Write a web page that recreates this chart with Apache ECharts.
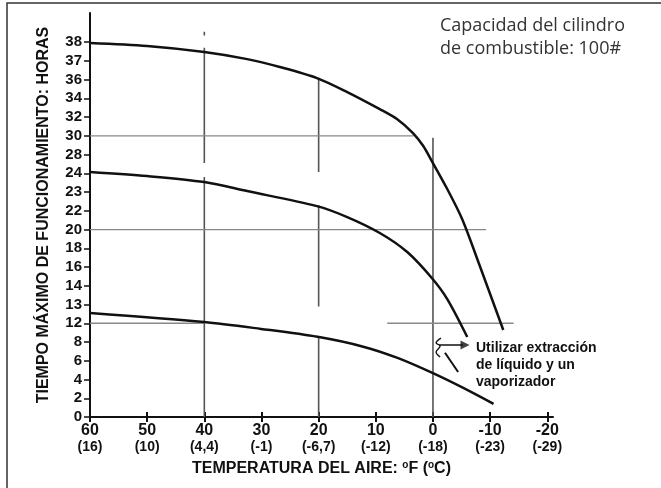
<!DOCTYPE html>
<html>
<head>
<meta charset="utf-8">
<script src="https://cdn.jsdelivr.net/npm/echarts@6/dist/echarts.min.js"></script>
<style>
  html, body { margin: 0; padding: 0; background: #fff; }
  #grafico { width: 661px; height: 488px; }
</style>
</head>
<body>
<div id="grafico"></div>
<script>
// Temperatura (ºF) y su equivalente en ºC
var tempF = [60, 50, 40, 30, 20, 10, 0, -10, -20];
var tempC = ['16', '10', '4,4', '-1', '-6,7', '-12', '-18', '-23', '-29'];

// Etiquetas del eje de horas (espaciado uniforme, valores no lineales)
var horasTicks = [0, 2, 4, 6, 8, 12, 13, 14, 16, 18, 20, 22, 23, 24, 28, 30, 32, 34, 36, 37, 38];

// Curvas (ºF, horas)
var curvaAltaF = [60, 50, 40, 32.5, 26.8, 20.3, 15, 9.3, 6.3, 3.5, 1.7, 0.2, -2.5, -5.1, -8.2, -12.3];
var curvaAltaH = [37.95, 37.79, 37.47, 37.09, 36.67, 36.08, 34.67, 32.85, 31.79, 30.29, 28.91, 26.61, 23.16, 21.12, 16.11, 10.56];

var curvaMediaF = [60, 50, 40, 32.5, 20.3, 15, 9.3, 4.5, 0.2, -2.5, -6.0];
var curvaMediaH = [24.27, 23.85, 23.53, 23.05, 22.25, 21.33, 19.63, 17.6, 14.83, 13.29, 9.07];

var curvaBajaF = [60, 40, 30.1, 20.2, 12.2, 6.2, 0.1, -5.3, -10.6];
var curvaBajaH = [12.55, 12.07, 10.8, 9.1, 7.5, 6.3, 4.7, 3.1, 1.4];

// Líneas guía verticales: [ºF, horas desde, horas hasta]
var guiasV = [
    [40, 38.35, 38.55],
    [40, 37.7, 26.2],
    [40, 23.8, 0],
    [20, 36.1, 24.3],
    [20, 22.3, 12.9],
    [20, 9.1, 0],
    [0, 29.8, 0]
];
// Líneas guía horizontales: [horas, ºF desde, ºF hasta]
var guiasH = [
    [30, 60, 3.4],
    [20, 60, -9.3],
    [12, 60, 40],
    [12, 8.0, -14.1]
];

// Flecha y trazos de la nota (ºF, horas)
var flechaF = [-1.1, -5.2];
var flechaH = [7.68, 7.68];
var puntaF = [-5.6];
var puntaH = [7.68];
var trazoF = [-2.1, -4.4];
var trazoH = [6.85, 4.8];
var rizoF = [-1.4, -0.55, -1.25, -0.55, -1.25];
var rizoH = [8.84, 7.9, 7.57, 6.93, 6.4];

// horas -> posición en el eje (interpolando entre etiquetas)
function toPos(h) {
    var n = horasTicks.length;
    if (h >= horasTicks[n - 1]) return (n - 1) + (h - horasTicks[n - 1]);
    for (var i = 0; i < n - 1; i++) {
        if (h >= horasTicks[i] && h <= horasTicks[i + 1]) {
            return i + (h - horasTicks[i]) / (horasTicks[i + 1] - horasTicks[i]);
        }
    }
    return 0;
}
function puntos(fs, hs) {
    return fs.map(function (f, i) { return [f, toPos(hs[i])]; });
}

var chartDom = document.getElementById('grafico');
var myChart = echarts.init(chartDom);

var posTicks = horasTicks.map(function (_, i) { return i; });
var negro = '#111';

var series = [];
[[curvaAltaF, curvaAltaH], [curvaMediaF, curvaMediaH], [curvaBajaF, curvaBajaH]].forEach(function (c) {
    series.push({
        type: 'line',
        data: puntos(c[0], c[1]),
        smooth: 0.3,
        symbol: 'none',
        silent: true,
        z: 5,
        lineStyle: { color: negro, width: 2.5 }
    });
});
guiasV.forEach(function (g) {
    series.push({
        type: 'line',
        data: [[g[0], toPos(g[1])], [g[0], toPos(g[2])]],
        symbol: 'none',
        silent: true,
        lineStyle: { color: '#555', width: 1.6 }
    });
});
guiasH.forEach(function (g) {
    series.push({
        type: 'line',
        data: [[g[1], toPos(g[0])], [g[2], toPos(g[0])]],
        symbol: 'none',
        silent: true,
        lineStyle: { color: '#888', width: 1.3 }
    });
});
series.push({
    type: 'line',
    data: puntos(flechaF, flechaH),
    symbol: 'none',
    silent: true,
    lineStyle: { color: negro, width: 1.6 }
});
series.push({
    type: 'scatter',
    data: puntos(puntaF, puntaH),
    symbol: 'triangle',
    symbolRotate: -90,
    symbolSize: [9, 9],
    silent: true,
    itemStyle: { color: negro }
});
series.push({
    type: 'line',
    data: puntos(trazoF, trazoH),
    symbol: 'none',
    silent: true,
    lineStyle: { color: negro, width: 2 }
});
series.push({
    type: 'line',
    data: puntos(rizoF, rizoH),
    smooth: 0.4,
    symbol: 'none',
    silent: true,
    lineStyle: { color: negro, width: 1.4 }
});

var option = {
    animation: false,
    backgroundColor: '#fff',
    grid: { left: 90, right: 108, top: 13, bottom: 71 },
    xAxis: [{
        type: 'value',
        min: -21,
        max: 60,
        inverse: true,
        name: '{t|TEMPERATURA DEL AIRE: }{s|o}{t|F (}{s|o}{t|C)}',
        nameLocation: 'middle',
        nameGap: 43,
        nameTextStyle: {
            rich: {
                t: { fontFamily: 'Liberation Sans', fontWeight: 'bold', fontSize: 16, color: negro },
                s: { fontFamily: 'Liberation Sans', fontWeight: 'bold', fontSize: 10, color: negro, padding: [0, 0, 7, 0] }
            }
        },
        axisLine: { onZero: false, lineStyle: { color: negro, width: 2 } },
        axisTick: { customValues: tempF, length: 5, lineStyle: { color: negro, width: 2 } },
        splitLine: { show: false },
        axisLabel: {
            customValues: tempF,
            margin: 5,
            formatter: function (v) {
                var i = tempF.indexOf(v);
                return '{a|' + v + '}\n{b|(' + tempC[i] + ')}';
            },
            rich: {
                a: { fontFamily: 'Liberation Sans', fontWeight: 'bold', fontSize: 16, lineHeight: 17, color: negro },
                b: { fontFamily: 'Liberation Sans', fontWeight: 'bold', fontSize: 14, lineHeight: 16, color: negro }
            }
        }
    }, {
        type: 'value',
        min: -21,
        max: 60,
        inverse: true,
        position: 'bottom',
        axisLine: { show: false, onZero: false },
        axisTick: { inside: true, customValues: tempF, length: 5, lineStyle: { color: negro, width: 2 } },
        axisLabel: { show: false },
        splitLine: { show: false }
    }],
    yAxis: {
        type: 'value',
        min: 0,
        max: 21.55,
        name: 'TIEMPO MÁXIMO DE FUNCIONAMIENTO: HORAS',
        nameLocation: 'middle',
        nameGap: 38,
        nameTextStyle: { fontFamily: 'Liberation Sans', fontWeight: 'bold', fontSize: 16, color: negro },
        axisLine: { show: true, onZero: false, lineStyle: { color: negro, width: 2 } },
        axisTick: { customValues: posTicks, length: 6, lineStyle: { color: negro, width: 1.5 } },
        splitLine: { show: false },
        axisLabel: {
            customValues: posTicks,
            margin: 8,
            fontFamily: 'Liberation Sans',
            fontWeight: 'bold',
            fontSize: 15,
            color: negro,
            formatter: function (v) { return String(horasTicks[Math.round(v)]); }
        }
    },
    graphic: [
        {
            type: 'rect',
            shape: { x: 7, y: 3, width: 700, height: 600 },
            style: { fill: 'none', stroke: '#333', lineWidth: 1.5 },
            silent: true
        },
        {
            type: 'text',
            left: 440,
            top: 14,
            style: {
                text: 'Capacidad del cilindro\nde combustible: 100#',
                font: '18px "Open Sans"',
                lineHeight: 23,
                fill: '#333'
            }
        },
        {
            type: 'text',
            left: 476,
            top: 340,
            style: {
                text: 'Utilizar extracción\nde líquido y un\nvaporizador',
                font: 'bold 14px "Liberation Sans"',
                lineHeight: 17,
                fill: negro
            }
        }
    ],
    series: series
};

myChart.setOption(option);
</script>
</body>
</html>
